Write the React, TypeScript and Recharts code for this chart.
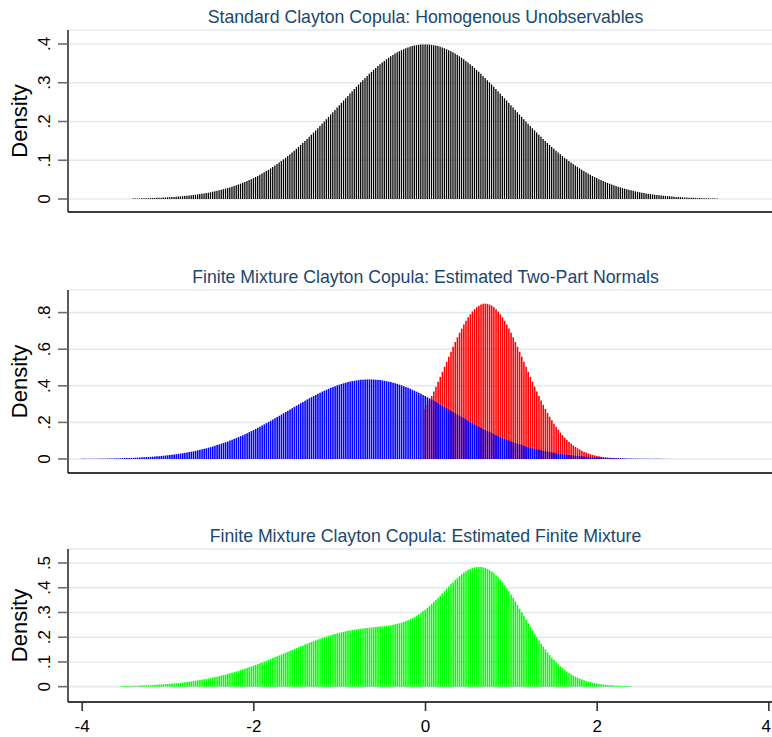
import React from 'react';
import { ComposedChart, Bar, XAxis, YAxis, CartesianGrid } from 'recharts';

const FONT = '"Liberation Sans", Arial, Helvetica, sans-serif';
const STEP = 0.025;

// Panel 1: standard normal density, spikes from -3.4 to 3.4
const standardStart = -3.4;
const standardDensity = [
  .0012,.0013,.0015,.0016,.0017,.0019,.0020,
  .0022,.0024,.0026,.0028,.0030,.0033,.0035,.0038,.0041,.0044,
  .0048,.0051,.0055,.0060,.0064,.0069,.0074,.0079,.0085,.0091,
  .0097,.0104,.0111,.0119,.0127,.0136,.0145,.0154,.0164,.0175,
  .0187,.0198,.0211,.0224,.0238,.0252,.0267,.0283,.0300,.0317,
  .0336,.0355,.0375,.0396,.0417,.0440,.0463,.0488,.0513,.0540,
  .0567,.0596,.0625,.0656,.0688,.0721,.0754,.0790,.0826,.0863,
  .0901,.0940,.0981,.1023,.1065,.1109,.1154,.1200,.1247,.1295,
  .1344,.1394,.1445,.1497,.1550,.1604,.1658,.1714,.1770,.1826,
  .1884,.1942,.2000,.2059,.2119,.2179,.2239,.2299,.2359,.2420,
  .2480,.2541,.2601,.2661,.2721,.2780,.2839,.2897,.2955,.3011,
  .3067,.3123,.3177,.3230,.3282,.3332,.3382,.3429,.3476,.3521,
  .3564,.3605,.3645,.3683,.3718,.3752,.3784,.3814,.3841,.3867,
  .3890,.3910,.3929,.3945,.3958,.3970,.3978,.3984,.3988,
  .3989,.3988,.3984,.3978,.3970,.3958,.3945,.3929,.3910,.3890,
  .3867,.3841,.3814,.3784,.3752,.3718,.3683,.3645,.3605,.3564,
  .3521,.3476,.3429,.3382,.3332,.3282,.3230,.3177,.3123,.3067,
  .3011,.2955,.2897,.2839,.2780,.2721,.2661,.2601,.2541,.2480,
  .2420,.2359,.2299,.2239,.2179,.2119,.2059,.2000,.1942,.1884,
  .1826,.1770,.1714,.1658,.1604,.1550,.1497,.1445,.1394,.1344,
  .1295,.1247,.1200,.1154,.1109,.1065,.1023,.0981,.0940,.0901,
  .0863,.0826,.0790,.0754,.0721,.0688,.0656,.0625,.0596,.0567,
  .0540,.0513,.0488,.0463,.0440,.0417,.0396,.0375,.0355,.0336,
  .0317,.0300,.0283,.0267,.0252,.0238,.0224,.0211,.0198,.0187,
  .0175,.0164,.0154,.0145,.0136,.0127,.0119,.0111,.0104,.0097,
  .0091,.0085,.0079,.0074,.0069,.0064,.0060,.0055,.0051,.0048,
  .0044,.0041,.0038,.0035,.0033,.0030,.0028,.0026,.0024,.0022,
  .0020,.0019,.0017,.0016,.0015,.0013,.0012,
];

// Panel 2: blue component, spikes from -4.0 to 2.875
const blueStart = -4.0;
const blueDensity = [
  .0009,.0010,.0010,.0011,.0013,
  .0014,.0015,.0016,.0018,.0019,.0021,.0023,.0025,.0027,.0030,
  .0032,.0035,.0038,.0041,.0045,.0048,.0052,.0057,.0061,.0066,
  .0071,.0077,.0083,.0089,.0096,.0103,.0110,.0119,.0127,.0136,
  .0146,.0156,.0167,.0179,.0191,.0204,.0218,.0232,.0247,.0263,
  .0280,.0298,.0316,.0336,.0356,.0378,.0400,.0424,.0449,.0474,
  .0501,.0529,.0558,.0589,.0620,.0653,.0687,.0723,.0759,.0797,
  .0837,.0877,.0919,.0963,.1007,.1053,.1101,.1149,.1199,.1251,
  .1303,.1357,.1412,.1469,.1526,.1585,.1645,.1706,.1767,.1830,
  .1894,.1959,.2024,.2091,.2158,.2225,.2293,.2362,.2431,.2500,
  .2569,.2638,.2708,.2777,.2846,.2915,.2984,.3051,.3119,.3185,
  .3251,.3316,.3380,.3442,.3503,.3563,.3622,.3679,.3734,.3787,
  .3839,.3888,.3936,.3981,.4024,.4065,.4103,.4138,.4172,.4202,
  .4230,.4255,.4277,.4296,.4313,.4326,.4336,.4344,.4348,
  .4350,.4348,.4344,.4336,.4326,.4313,.4296,.4277,.4255,.4230,
  .4202,.4172,.4138,.4103,.4065,.4024,.3981,.3936,.3888,.3839,
  .3787,.3734,.3679,.3622,.3563,.3503,.3442,.3380,.3316,.3251,
  .3185,.3119,.3051,.2984,.2915,.2846,.2777,.2708,.2638,.2569,
  .2500,.2431,.2362,.2293,.2225,.2158,.2091,.2024,.1959,.1894,
  .1830,.1767,.1706,.1645,.1585,.1526,.1469,.1412,.1357,.1303,
  .1251,.1199,.1149,.1101,.1053,.1007,.0963,.0919,.0877,.0837,
  .0797,.0759,.0723,.0687,.0653,.0620,.0589,.0558,.0529,.0501,
  .0474,.0449,.0424,.0400,.0378,.0356,.0336,.0316,.0298,.0280,
  .0263,.0247,.0232,.0218,.0204,.0191,.0179,.0167,.0156,.0146,
  .0136,.0127,.0119,.0110,.0103,.0096,.0089,.0083,.0077,.0071,
  .0066,.0061,.0057,.0052,.0048,.0045,.0041,.0038,.0035,.0032,
  .0030,.0027,.0025,.0023,.0021,.0019,.0018,.0016,.0015,.0014,
  .0013,.0011,.0010,.0010,.0009,.0008,.0007,.0007,.0006,.0005,
  .0005,.0004,
];

// Panel 2: red component, spikes from 0.0 to 2.3 (same grid as blue)
const redStart = 0.0;
const redDensity = [
  .2734,.2960,.3196,.3441,.3693,.3953,.4218,.4489,.4763,.5039,
  .5316,.5592,.5865,.6133,.6396,.6650,.6895,.7128,.7348,.7552,
  .7740,.7910,.8060,.8189,.8296,.8380,.8441,.8478,
  .8490,.8478,.8441,.8380,.8296,.8189,.8060,.7910,.7740,.7552,
  .7348,.7128,.6895,.6650,.6396,.6133,.5865,.5592,.5316,.5039,
  .4763,.4489,.4218,.3953,.3693,.3441,.3196,.2960,.2734,.2518,
  .2312,.2117,.1933,.1760,.1597,.1446,.1305,.1174,.1053,.0942,
  .0841,.0748,.0663,.0587,.0517,.0455,.0399,.0349,.0304,.0264,
  .0229,.0198,.0170,.0147,.0126,.0107,.0091,.0078,.0066,.0055,
  .0047,.0039,.0033,.0027,.0023,
];

// Panel 3: finite mixture, spikes from -3.55 to 2.4
const greenStart = -3.55;
const greenDensity = [
  .0022,.0024,.0026,.0028,.0030,.0033,.0035,.0038,.0041,.0044,
  .0048,.0051,.0055,.0059,.0064,.0068,.0073,.0078,.0083,.0089,
  .0096,.0102,.0109,.0117,.0124,.0132,.0141,.0150,.0159,.0169,
  .0180,.0190,.0202,.0214,.0227,.0240,.0254,.0268,.0283,.0299,
  .0315,.0332,.0349,.0368,.0387,.0406,.0426,.0448,.0469,.0492,
  .0515,.0539,.0563,.0589,.0615,.0641,.0669,.0697,.0726,.0755,
  .0786,.0816,.0848,.0880,.0913,.0945,.0979,.1013,.1048,.1083,
  .1119,.1155,.1190,.1227,.1264,.1301,.1338,.1374,.1411,.1449,
  .1486,.1523,.1560,.1596,.1632,.1669,.1704,.1739,.1774,.1808,
  .1841,.1874,.1906,.1938,.1968,.1998,.2026,.2054,.2080,.2106,
  .2130,.2153,.2180,.2201,.2221,.2241,.2259,.2276,.2291,.2306,
  .2320,.2333,.2345,.2356,.2366,.2376,.2386,.2394,.2403,.2412,
  .2420,.2430,.2439,.2450,.2462,.2475,.2488,.2505,.2522,.2543,
  .2566,.2591,.2620,.2652,.2687,.2726,.2769,.2816,.2867,.2922,
  .2981,.3045,.3112,.3184,.3260,.3339,.3421,.3507,.3593,.3683,
  .3775,.3866,.3958,.4049,.4138,.4226,.4312,.4393,.4470,.4542,
  .4607,.4667,.4718,.4761,.4796,.4821,.4837,.4842,.4838,.4822,
  .4796,.4758,.4711,.4652,.4584,.4505,.4417,.4319,.4214,.4101,
  .3980,.3854,.3721,.3584,.3443,.3300,.3153,.3006,.2859,.2711,
  .2564,.2419,.2276,.2137,.2000,.1868,.1740,.1616,.1498,.1385,
  .1277,.1174,.1079,.0987,.0902,.0822,.0748,.0678,.0614,.0555,
  .0500,.0450,.0404,.0362,.0323,.0290,.0259,.0230,.0205,.0182,
  .0161,.0143,.0127,.0112,.0100,.0088,.0077,.0069,.0061,.0054,
  .0048,.0042,.0037,.0033,.0030,.0026,.0023,.0020,.0018,
];

const xTicks = [-4, -2, 0, 2, 4];
const yTicks1 = [0, 0.1, 0.2, 0.3, 0.4];
const yTicks2 = [0, 0.2, 0.4, 0.6, 0.8];
const yTicks3 = [0, 0.1, 0.2, 0.3, 0.4, 0.5];
const titles = [
  'Standard Clayton Copula: Homogenous Unobservables',
  'Finite Mixture Clayton Copula: Estimated Two-Part Normals',
  'Finite Mixture Clayton Copula: Estimated Finite Mixture',
];
const yLabel = 'Density';

const xAt = (start: number, i: number) => Math.round((start + i * STEP) * 10000) / 10000;

const data1 = standardDensity.map((v, i) => ({ x: xAt(standardStart, i), v }));
const redOffset = Math.round((redStart - blueStart) / STEP);
const data2 = blueDensity.map((v, i) => {
  const j = i - redOffset;
  return {
    x: xAt(blueStart, i),
    blue: v,
    red: j >= 0 && j < redDensity.length ? redDensity[j] : null,
  };
});
const data3 = greenDensity.map((v, i) => ({ x: xAt(greenStart, i), v }));

const X_DOMAIN: [number, number] = [-4.165, 4.165];
const CHART_W = 790;
const VIEW_W = 772;
const GRID = '#e2eaf0';
const SPIKE_BLACK = 1.3;
const SPIKE_COLOR = 1.6;

const fmt = (v: number) => (v === 0 ? '0' : String(v).replace(/^0\./, '.').replace(/^-0\./, '-.'));

const YTick = (props: any) => {
  const { x, y, payload } = props;
  const bx = x - 7.5;
  return (
    <text
      x={bx}
      y={y}
      transform={`rotate(-90 ${bx} ${y})`}
      textAnchor="middle"
      fontSize={17}
      fontFamily={FONT}
      fill="#000"
    >
      {fmt(payload.value)}
    </text>
  );
};

const XTick = (props: any) => {
  const { x, y, payload } = props;
  const label = String(payload.value);
  const half = label.length * 4.8;
  const cx = Math.min(x, VIEW_W - 1 - half);
  return (
    <text x={cx} y={y} dy="0.71em" textAnchor="middle" fontSize={17} fontFamily={FONT} fill="#000">
      {label}
    </text>
  );
};

const yAxisCommon = {
  type: 'number' as const,
  width: 68,
  tickSize: 10,
  tickMargin: 0,
  interval: 0 as const,
  allowDataOverflow: true,
  axisLine: { stroke: '#000', strokeWidth: 1.3 },
  tickLine: { stroke: '#6e6e6e', strokeWidth: 1.6 },
  tick: <YTick />,
};

function Panel1() {
  return (
    <ComposedChart width={CHART_W} height={230} data={data1} margin={{ top: 30, right: 7, bottom: 8, left: 0 }}>
      <CartesianGrid vertical={false} stroke={GRID} strokeWidth={1.6} />
      <XAxis
        type="number"
        dataKey="x"
        domain={X_DOMAIN}
        allowDataOverflow
        ticks={xTicks}
        height={10}
        tick={false}
        tickLine={false}
        axisLine={{ stroke: '#000', strokeWidth: 1.3 }}
      />
      <YAxis {...yAxisCommon} domain={[-0.0335, 0.4361]} ticks={yTicks1} />
      <Bar dataKey="v" fill="#000" barSize={SPIKE_BLACK} isAnimationActive={false} />
    </ComposedChart>
  );
}

function Panel2() {
  return (
    <ComposedChart width={CHART_W} height={231} data={data2} margin={{ top: 30, right: 7, bottom: 8, left: 0 }}>
      <CartesianGrid vertical={false} stroke={GRID} strokeWidth={1.6} />
      <XAxis
        type="number"
        dataKey="x"
        domain={X_DOMAIN}
        allowDataOverflow
        ticks={xTicks}
        height={10}
        tick={false}
        tickLine={false}
        axisLine={{ stroke: '#000', strokeWidth: 1.3 }}
      />
      <XAxis xAxisId="b" type="number" dataKey="x" domain={X_DOMAIN} allowDataOverflow hide />
      <YAxis {...yAxisCommon} domain={[-0.0765, 0.9235]} ticks={yTicks2} />
      <Bar dataKey="red" fill="#ff0000" barSize={SPIKE_COLOR} isAnimationActive={false} />
      <Bar dataKey="blue" xAxisId="b" fill="#0000ff" barSize={SPIKE_COLOR} isAnimationActive={false} />
    </ComposedChart>
  );
}

function Panel3() {
  return (
    <ComposedChart width={CHART_W} height={218} data={data3} margin={{ top: 30, right: 7, bottom: 0, left: 0 }}>
      <CartesianGrid vertical={false} stroke={GRID} strokeWidth={1.6} />
      <XAxis
        type="number"
        dataKey="x"
        domain={X_DOMAIN}
        allowDataOverflow
        ticks={xTicks}
        interval={0}
        height={35}
        tickSize={9}
        tickMargin={9}
        tick={<XTick />}
        tickLine={{ stroke: '#333', strokeWidth: 1.6 }}
        axisLine={{ stroke: '#000', strokeWidth: 1.3 }}
      />
      <YAxis {...yAxisCommon} domain={[-0.062, 0.5567]} ticks={yTicks3} />
      <Bar dataKey="v" fill="#00ff00" barSize={SPIKE_COLOR} isAnimationActive={false} />
    </ComposedChart>
  );
}

export default function App() {
  const titleY = [23, 283, 542];
  const labelY = [121, 381.5, 625.5];
  return (
    <div
      style={{
        position: 'absolute',
        left: 0,
        top: 0,
        width: VIEW_W,
        height: 737,
        overflow: 'hidden',
        background: '#fff',
        fontFamily: FONT,
      }}
    >
      <div style={{ position: 'absolute', left: 0, top: 0 }}>
        <Panel1 />
      </div>
      <div style={{ position: 'absolute', left: 0, top: 260 }}>
        <Panel2 />
      </div>
      <div style={{ position: 'absolute', left: 0, top: 519 }}>
        <Panel3 />
      </div>
      <svg
        width={VIEW_W}
        height={737}
        style={{ position: 'absolute', left: 0, top: 0, pointerEvents: 'none' }}
      >
        {titles.map((t, i) => (
          <text key={t} x={425.5} y={titleY[i]} textAnchor="middle" fontSize={17.7} fontFamily={FONT} fill="#1a476f">
            {t}
          </text>
        ))}
        {labelY.map((y, i) => (
          <text
            key={i}
            x={27}
            y={y}
            transform={`rotate(-90 27 ${y})`}
            textAnchor="middle"
            fontSize={22}
            fontFamily={FONT}
            fill="#000"
          >
            {yLabel}
          </text>
        ))}
      </svg>
    </div>
  );
}
